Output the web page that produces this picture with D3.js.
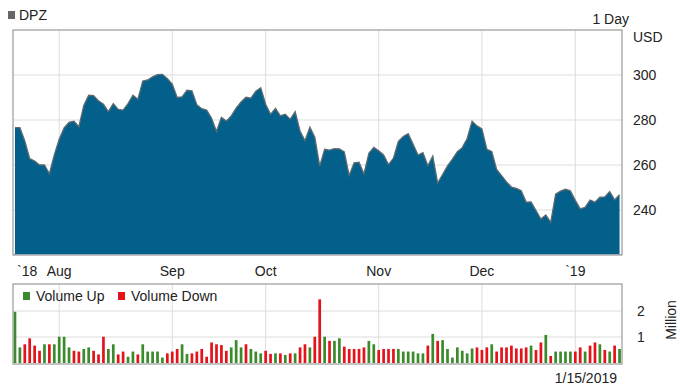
<!DOCTYPE html>
<html>
<head>
<meta charset="utf-8">
<script src="https://cdn.jsdelivr.net/npm/d3@7"></script>
<style>
  body { margin: 0; background: #fff; }
  text { font-family: "Liberation Sans", Arial, sans-serif; font-size: 14px; fill: #222; }
</style>
</head>
<body>
<script>

// daily closes, trading-day index 0 = Jul 19 2018 ... 123 = Jan 15 2019
var prices = [
  276.6, 276.6, 270.7, 262.8, 261.8, 260.0, 260.0, 256.1, 264.5, 271.5,
  276.5, 279.0, 279.5, 277.0, 286.5, 291.0, 290.8, 288.5, 287.0, 283.7,
  287.3, 284.7, 284.4, 287.3, 291.0, 289.2, 297.3, 297.8, 299.2, 300.2,
  300.3, 298.4, 296.0, 290.0, 290.3, 293.2, 293.0, 286.8, 285.0, 284.4,
  280.8, 274.9, 281.2, 279.5, 281.8, 285.3, 288.0, 290.1, 289.7, 292.8,
  294.3, 287.0, 282.5, 285.2, 281.8, 282.6, 280.3, 283.7, 275.1, 270.8,
  276.8, 272.3, 259.5, 267.0, 266.6, 267.3, 267.2, 265.8, 255.3, 261.0,
  261.2, 256.0, 265.2, 267.8, 266.3, 264.5, 260.2, 263.0, 270.5, 272.7,
  273.9, 269.2, 264.4, 265.5, 259.7, 264.0, 252.0, 255.8, 259.6, 262.6,
  265.9, 267.7, 271.8, 279.5, 277.4, 276.0, 267.0, 266.0, 258.0, 255.3,
  252.5, 250.2, 249.6, 248.6, 243.5, 243.6, 239.8, 236.0, 237.8, 234.5,
  247.0, 248.4, 249.2, 248.5, 244.3, 240.5, 241.2, 244.4, 243.5, 245.7,
  245.8, 248.2, 244.5, 246.8
];

// volume in millions
var volumes = [
  1.97, 0.60, 0.72, 0.95, 0.67, 0.47, 0.72, 0.72, 0.72, 1.01,
  1.01, 0.60, 0.47, 0.44, 0.54, 0.60, 0.47, 0.33, 1.01, 0.54,
  0.72, 0.33, 0.44, 0.24, 0.44, 0.33, 0.72, 0.44, 0.44, 0.44,
  0.21, 0.37, 0.44, 0.54, 0.72, 0.35, 0.37, 0.44, 0.54, 0.24,
  0.79, 0.72, 0.69, 0.47, 0.60, 0.88, 0.60, 0.72, 0.54, 0.44,
  0.37, 0.47, 0.35, 0.37, 0.37, 0.31, 0.37, 0.37, 0.60, 0.72,
  0.60, 1.01, 2.45, 1.01, 0.85, 0.85, 0.95, 0.63, 0.54, 0.54,
  0.54, 0.60, 0.85, 0.72, 0.50, 0.54, 0.54, 0.54, 0.54, 0.44,
  0.44, 0.44, 0.37, 0.37, 0.67, 1.12, 0.85, 0.88, 0.54, 0.21,
  0.60, 0.47, 0.37, 0.56, 0.60, 0.50, 0.60, 0.72, 0.44, 0.60,
  0.60, 0.67, 0.56, 0.56, 0.60, 0.67, 0.50, 0.79, 1.08, 0.27,
  0.44, 0.44, 0.44, 0.44, 0.44, 0.60, 0.44, 0.67, 0.79, 0.72,
  0.50, 0.44, 0.67, 0.54
];

// 1 = volume up (green), 0 = volume down (red)
var volUp = [
  1, 1, 0, 0, 0, 0, 1, 0, 1, 1,
  1, 1, 0, 0, 1, 1, 0, 0, 0, 1,
  1, 0, 0, 1, 1, 0, 1, 1, 1, 1,
  1, 0, 0, 0, 1, 1, 0, 0, 0, 0,
  0, 0, 0, 0, 1, 1, 1, 0, 1, 1,
  1, 0, 0, 1, 0, 1, 0, 1, 0, 0,
  1, 0, 0, 1, 0, 1, 1, 0, 0, 0,
  0, 0, 1, 1, 0, 0, 0, 0, 1, 1,
  1, 1, 1, 1, 0, 1, 0, 1, 1, 1,
  1, 1, 1, 1, 0, 0, 0, 1, 0, 0,
  0, 0, 0, 0, 0, 1, 0, 0, 1, 0,
  1, 1, 1, 1, 0, 0, 1, 0, 0, 1,
  0, 1, 0, 1
];

var monthIdx = [9, 32, 51, 74, 95, 114];
var monthLabels = ["Aug", "Sep", "Oct", "Nov", "Dec", "`19"];
var priceTicks = [240, 260, 280, 300];
var volTicks = [1, 2];

var width = 680, height = 386;
var pane = {left: 13, right: 622, top: 30, bottom: 255};
var vpane = {top: 284, bottom: 364};

var svg = d3.select("body").append("svg")
    .attr("width", width)
    .attr("height", height);

var x = d3.scaleLinear().domain([-0.4, 123.5]).range([pane.left, pane.right]);
var y = d3.scaleLinear().domain([220, 320]).range([pane.bottom, pane.top]);
var yv = d3.scaleLinear().domain([0, 3.04]).range([vpane.bottom - 1, vpane.top]);

var defs = svg.append("defs");
defs.append("clipPath").attr("id", "clipP").append("rect")
    .attr("x", pane.left).attr("y", pane.top)
    .attr("width", pane.right - pane.left).attr("height", pane.bottom - pane.top);
defs.append("clipPath").attr("id", "clipV").append("rect")
    .attr("x", pane.left).attr("y", vpane.top)
    .attr("width", pane.right - pane.left).attr("height", vpane.bottom - vpane.top);

// **** price panel *****************
var gp = svg.append("g");

gp.selectAll(".vgrid")
  .data(monthIdx)
  .join("line")
    .attr("x1", d => x(d)).attr("x2", d => x(d))
    .attr("y1", pane.top).attr("y2", pane.bottom)
    .attr("stroke", "#ddd");

gp.selectAll(".hgrid")
  .data(priceTicks)
  .join("line")
    .attr("x1", pane.left).attr("x2", pane.right)
    .attr("y1", d => y(d)).attr("y2", d => y(d))
    .attr("stroke", "#ddd");

var area = d3.area()
    .x((d, i) => x(i))
    .y0(pane.bottom)
    .y1(d => y(d));

var line = d3.line()
    .x((d, i) => x(i))
    .y(d => y(d));

var ga = gp.append("g").attr("clip-path", "url(#clipP)");
ga.append("path")
    .datum(prices)
    .attr("d", area)
    .attr("fill", "#02608b");
ga.append("path")
    .datum(prices)
    .attr("d", line)
    .attr("fill", "none")
    .attr("stroke", "#5d6a72")
    .attr("stroke-width", 1.3);

gp.append("line")
    .attr("x1", pane.left).attr("x2", pane.right)
    .attr("y1", pane.bottom - 0.5).attr("y2", pane.bottom - 0.5)
    .attr("stroke", "#8fb8cf");

gp.append("rect")
    .attr("x", pane.left).attr("y", pane.top)
    .attr("width", pane.right - pane.left).attr("height", pane.bottom - pane.top)
    .attr("fill", "none")
    .attr("stroke", "#999")
    .attr("stroke-width", 1.2);

gp.selectAll(".plabel")
  .data(priceTicks)
  .join("text")
    .attr("x", 633)
    .attr("y", d => y(d))
    .attr("dy", "0.35em")
    .text(d => d);

svg.append("text").attr("x", 633).attr("y", 42).text("USD");
svg.append("text").attr("x", 629).attr("y", 24).attr("text-anchor", "end").text("1 Day");

svg.append("rect").attr("x", 8).attr("y", 11).attr("width", 7).attr("height", 8).attr("fill", "#666");
svg.append("text").attr("x", 19).attr("y", 20).text("DPZ");

// month labels
svg.append("text").attr("x", 17).attr("y", 276).text("`18");
svg.selectAll(".mlabel")
  .data(monthIdx)
  .join("text")
    .attr("x", d => x(d))
    .attr("y", 276)
    .attr("text-anchor", "middle")
    .text((d, i) => monthLabels[i]);

// **** volume panel *****************
var gv = svg.append("g");

gv.selectAll(".vgrid")
  .data(monthIdx)
  .join("line")
    .attr("x1", d => x(d)).attr("x2", d => x(d))
    .attr("y1", vpane.top).attr("y2", vpane.bottom)
    .attr("stroke", "#ddd");

gv.selectAll(".hgrid")
  .data(volTicks)
  .join("line")
    .attr("x1", pane.left).attr("x2", pane.right)
    .attr("y1", d => yv(d)).attr("y2", d => yv(d))
    .attr("stroke", "#ddd");

var bw = 2.7;
gv.append("g").attr("clip-path", "url(#clipV)")
  .selectAll("rect")
  .data(volumes)
  .join("rect")
    .attr("x", (d, i) => x(i) - bw / 2)
    .attr("y", d => yv(d))
    .attr("width", bw)
    .attr("height", d => yv(0) - yv(d))
    .attr("fill", (d, i) => volUp[i] ? "#3b8a2c" : "#e3121b");

gv.append("rect")
    .attr("x", pane.left).attr("y", vpane.top)
    .attr("width", pane.right - pane.left).attr("height", vpane.bottom - vpane.top)
    .attr("fill", "none")
    .attr("stroke", "#999")
    .attr("stroke-width", 1.2);

gv.selectAll(".vlabel")
  .data(volTicks)
  .join("text")
    .attr("x", 637)
    .attr("y", d => yv(d))
    .attr("dy", "0.35em")
    .text(d => d);

svg.append("text")
    .attr("transform", "translate(676,320) rotate(-90)")
    .attr("text-anchor", "middle")
    .text("Million");

// legend
var leg = [{label: "Volume Up", color: "#3b8a2c", x: 23}, {label: "Volume Down", color: "#e3121b", x: 118}];
var lg = svg.selectAll(".leg").data(leg).join("g");
lg.append("rect")
    .attr("x", d => d.x).attr("y", 292)
    .attr("width", 7).attr("height", 8)
    .attr("fill", d => d.color);
lg.append("text")
    .attr("x", d => d.x + 13).attr("y", 301)
    .text(d => d.label);

svg.append("text").attr("x", 617).attr("y", 383).attr("text-anchor", "end").text("1/15/2019");

</script>
</body>
</html>
